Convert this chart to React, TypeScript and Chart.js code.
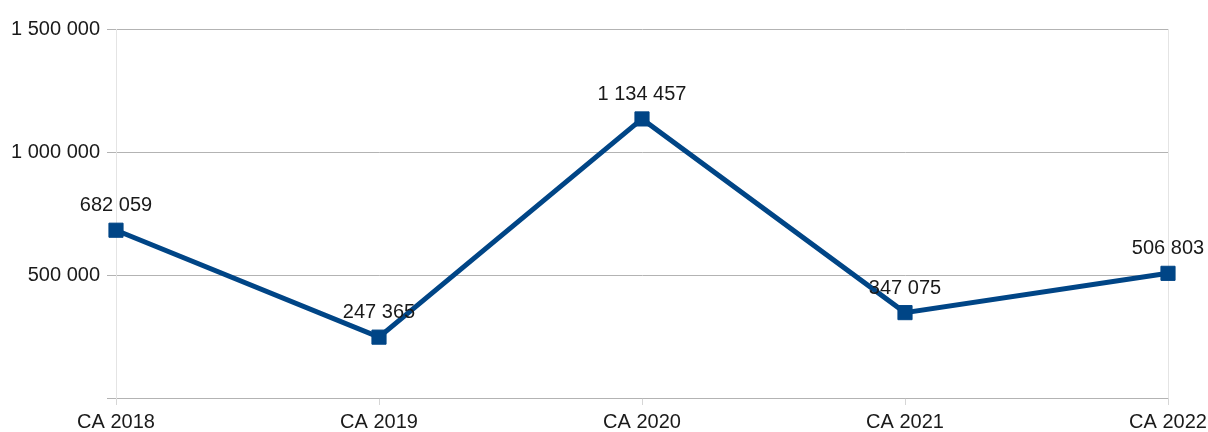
import React, { useEffect, useRef } from "react";
import { Chart, registerables } from "chart.js";

Chart.register(...registerables);

const categories = ["CA 2018", "CA 2019", "CA 2020", "CA 2021", "CA 2022"];
const revenue = [682059, 247365, 1134457, 347075, 506803];
const yTicks = [0, 500000, 1000000, 1500000];

const fmt = (v: number) => String(Math.round(v)).replace(/\B(?=(\d{3})+(?!\d))/g, " ");

const FONT = "'Liberation Sans', Arial, sans-serif";
const TEXT = "#1a1a1a";

const labelPlugin = {
  id: "valueLabels",
  afterDatasetsDraw(chart: any) {
    const ctx = chart.ctx;
    const meta = chart.getDatasetMeta(0);
    ctx.save();
    ctx.font = `20px ${FONT}`;
    ctx.fillStyle = TEXT;
    ctx.textAlign = "center";
    ctx.textBaseline = "alphabetic";
    meta.data.forEach((pt: any, i: number) => {
      ctx.fillText(fmt(revenue[i]), pt.x, pt.y - 19);
    });
    ctx.restore();
  },
};

export default function App() {
  const ref = useRef<HTMLCanvasElement | null>(null);
  useEffect(() => {
    if (!ref.current) return;
    const last = categories.length - 1;
    const chart = new Chart(ref.current, {
      type: "line",
      data: {
        labels: categories,
        datasets: [
          {
            data: revenue,
            borderColor: "#004586",
            backgroundColor: "#004586",
            borderWidth: 5,
            pointStyle: "rect",
            pointRadius: 10,
            pointBorderWidth: 1,
            pointBackgroundColor: "#004586",
            pointBorderColor: "#004586",
            tension: 0,
            clip: false,
          },
        ],
      },
      options: {
        animation: false,
        responsive: true,
        maintainAspectRatio: false,
        layout: { padding: { top: 29, right: 40, left: 0, bottom: 0 } },
        plugins: { legend: { display: false }, tooltip: { enabled: false } },
        scales: {
          x: {
            offset: false,
            grid: {
              color: (c: any) => (c.index === 0 || c.index === last ? "#e4e4e4" : "rgba(0,0,0,0)"),
              tickColor: "#d6d6d6",
              tickLength: 7,
              drawOnChartArea: true,
            },
            border: { display: false },
            ticks: { color: TEXT, font: { family: FONT, size: 20 }, padding: 5, maxRotation: 0 },
            afterFit: (s: any) => {
              s.height = 34;
              s.paddingRight = 0;
              s.paddingLeft = 0;
            },
          },
          y: {
            min: 0,
            max: 1500000,
            afterBuildTicks: (s: any) => {
              s.ticks = yTicks.map((v) => ({ value: v }));
            },
            grid: { color: "#b3b3b3", tickColor: "#b3b3b3", tickLength: 9 },
            border: { color: "#e4e4e4" },
            ticks: {
              color: TEXT,
              font: { family: FONT, size: 20 },
              padding: 7,
              callback: (v: any) => (Number(v) === 0 ? "" : fmt(Number(v))),
            },
            afterFit: (s: any) => {
              s.width = 116;
            },
          },
        },
      },
      plugins: [labelPlugin],
    });
    return () => chart.destroy();
  }, []);
  return (
    <div style={{ position: "absolute", left: 0, top: 0, width: 1208, height: 432, background: "#fff" }}>
      <canvas ref={ref} />
    </div>
  );
}
